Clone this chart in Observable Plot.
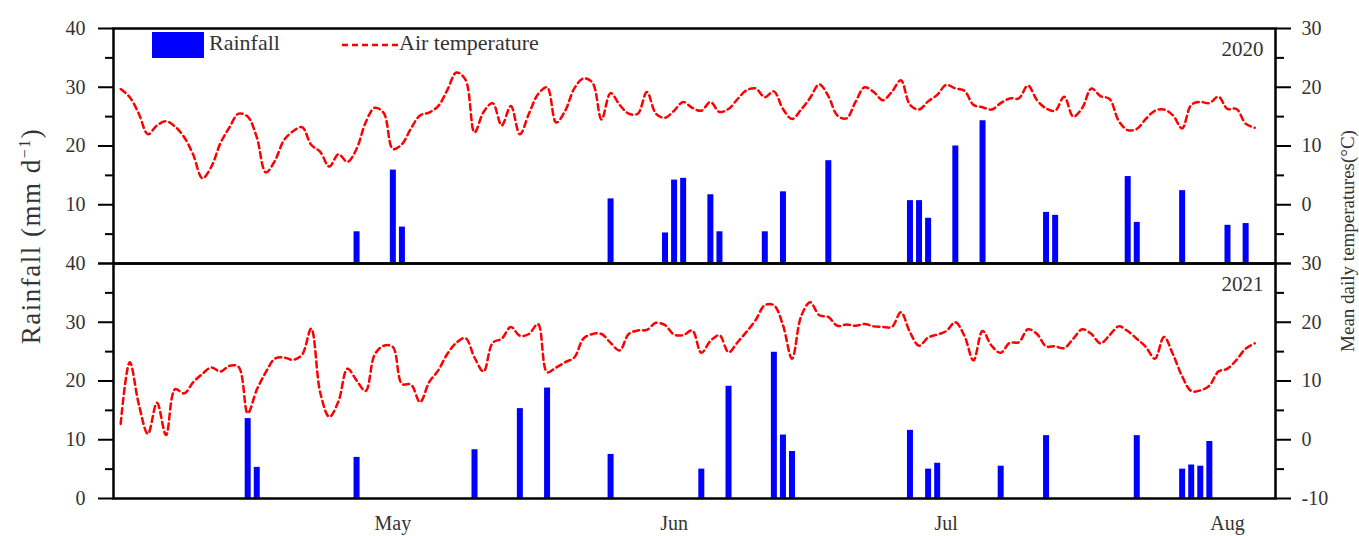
<!DOCTYPE html>
<html><head><meta charset="utf-8">
<script src="https://cdn.jsdelivr.net/npm/d3@7"></script>
<script src="https://cdn.jsdelivr.net/npm/@observablehq/plot@0.6"></script>
<style>
body{margin:0;background:#fff;}
#wrap{position:relative;width:1359px;height:536px;font-family:"Liberation Serif",serif;color:#333;}
.ov{position:absolute;white-space:nowrap;}
</style></head>
<body><div id="wrap"></div>
<script>
// ---- data ----
const years = [2020, 2021];
const monthTicks = ["05-01", "06-01", "07-01", "08-01"];
// daily mean air temperature (°C), 1 Apr .. 4 Aug
const temps2020 = [19.7,18.3,15.5,12.0,13.5,14.2,13.3,11.5,8.5,4.5,6.5,10.5,13.2,15.5,15.0,11.5,5.5,7.5,11.0,12.5,13.2,10.2,9.0,6.5,8.6,7.3,9.5,14.0,16.5,15.6,9.5,10.3,13.0,15.2,15.7,16.8,19.5,22.5,21.3,12.3,15.8,17.3,13.5,16.8,12.0,15.5,18.8,20.0,14.0,16.0,19.8,21.5,20.8,14.5,19.0,17.0,15.5,15.5,19.2,15.5,14.8,16.0,17.5,16.5,16.0,17.5,15.8,16.3,18.0,19.5,19.8,18.3,19.3,16.3,14.6,16.2,18.2,20.5,18.5,15.2,14.7,17.5,20.0,19.2,17.8,19.2,21.2,17.0,16.2,17.6,18.7,20.4,19.8,19.4,17.0,16.6,16.2,17.3,18.1,18.1,20.3,17.8,16.4,16.0,18.4,15.0,16.5,19.8,18.5,18.0,14.3,12.7,12.9,14.6,16.0,16.2,15.2,13.0,17.0,17.5,17.3,18.4,16.3,16.3,13.8,13.1];
const temps2021 = [2.7,13.2,6.0,1.0,6.3,0.8,8.6,7.9,9.8,11.2,12.3,11.6,12.6,12.4,4.5,8.5,11.5,13.8,14.0,13.6,14.5,18.9,8.0,3.9,6.5,12.1,10.1,8.3,14.5,16.0,15.8,9.5,9.4,6.4,9.8,11.8,14.6,16.5,17.3,14.0,11.6,16.5,17.2,19.2,17.7,18.0,19.7,11.5,12.3,13.2,14.0,17.2,18.0,18.0,16.5,15.2,18.0,18.6,18.7,19.9,19.5,17.9,17.8,18.6,14.8,16.8,17.8,14.9,16.6,18.4,20.4,22.9,22.9,19.5,13.8,21.0,23.4,21.2,20.9,19.4,19.6,19.4,19.7,19.3,19.2,19.2,21.7,18.3,16.0,17.4,17.9,18.5,20.0,17.7,13.5,18.5,16.0,14.8,16.5,16.6,18.8,18.0,15.9,15.9,15.6,17.2,18.8,18.0,16.4,17.8,19.3,18.5,17.2,15.8,13.8,17.5,14.5,10.8,8.3,8.4,9.2,11.6,12.1,13.6,15.5,16.4];
// daily rainfall (mm/d)
const rainDates2020 = ["04-27","05-01","05-02","05-25","05-31","06-01","06-02","06-05","06-06","06-11","06-13","06-18","06-27","06-28","06-29","07-02","07-05","07-12","07-13","07-21","07-22","07-27","08-01","08-03"];
const rain2020 = [5.4,15.9,6.2,11.0,5.2,14.2,14.5,11.7,5.4,5.4,12.2,17.5,10.7,10.7,7.7,20.0,24.3,8.7,8.2,14.8,7.0,12.4,6.5,6.8];
const rainDates2021 = ["04-15","04-16","04-27","05-10","05-15","05-18","05-25","06-04","06-07","06-12","06-13","06-14","06-27","06-29","06-30","07-07","07-12","07-22","07-27","07-28","07-29","07-30"];
const rain2021 = [13.6,5.3,7.0,8.3,15.3,18.8,7.5,5.0,19.1,24.9,10.8,8.0,11.6,5.0,6.0,5.5,10.7,10.7,5.0,5.7,5.5,9.7];

// ---- build tables (common calendar year for the shared x axis) ----
const md = s => { const [m, d] = s.split("-").map(Number); return new Date(Date.UTC(2021, m - 1, d)); };
const tempData = [
  ...temps2020.map((t, i) => ({year: 2020, date: new Date(Date.UTC(2021, 3, 1 + i)), temp: t})),
  ...temps2021.map((t, i) => ({year: 2021, date: new Date(Date.UTC(2021, 3, 1 + i)), temp: t}))
];
const rainData = [
  ...rainDates2020.map((s, i) => ({year: 2020, date: md(s), rain: rain2020[i]})),
  ...rainDates2021.map((s, i) => ({year: 2021, date: md(s), rain: rain2021[i]}))
];
const tempOffset = 10; // right axis: -10..30 °C shares the 0..40 mm frame

const axisStyle = {stroke: "black", strokeWidth: 2, fill: "#333", fontSize: 20, label: null};
const chart = Plot.plot({
  width: 1359, height: 536,
  marginLeft: 113, marginRight: 84, marginTop: 28, marginBottom: 38,
  style: {fontFamily: "Liberation Serif", fontSize: "20px", color: "#333", background: "white", overflow: "visible"},
  x: {type: "utc", domain: [new Date(Date.UTC(2021, 2, 31, 5)), new Date(Date.UTC(2021, 7, 6, 7))]},
  y: {domain: [0, 40]},
  fy: {padding: 0, axis: null, label: null, domain: years},
  marks: [
    Plot.ruleX(rainData, {x: "date", y1: 0, y2: "rain", fy: "year", stroke: "#0000ff", strokeWidth: 6}),
    Plot.line(tempData, {x: "date", y: d => d.temp + tempOffset, fy: "year", stroke: "#ff0000", strokeWidth: 2.5, strokeDasharray: "6,4", curve: "catmull-rom"}),
    Plot.frame({stroke: "black", strokeWidth: 2.5}),
    Plot.axisY({...axisStyle, ticks: [0, 10, 20, 30, 40], tickFormat: d => d === 0 ? "" : String(d), tickSize: 15, tickPadding: 13}),
    Plot.axisY({...axisStyle, ticks: [5, 15, 25, 35], tickFormat: () => "", tickSize: 8}),
    Plot.axisY({...axisStyle, anchor: "right", ticks: [0, 10, 20, 30, 40], tickFormat: d => d === 0 ? "" : String(d - tempOffset), tickSize: 15, tickPadding: 11}),
    Plot.axisY({...axisStyle, anchor: "right", ticks: [5, 15, 25, 35], tickFormat: () => "", tickSize: 8}),
    Plot.text([{year: 2021, v: 0}], {fy: "year", y: "v", text: () => "0", frameAnchor: "left", dx: -28, textAnchor: "end", fontSize: 20, fill: "#333"}),
    Plot.text([{year: 2021, v: 0}], {fy: "year", y: "v", text: d => String(d.v - tempOffset), frameAnchor: "right", dx: 26, textAnchor: "start", fontSize: 20, fill: "#333"}),
    Plot.text(years, {fy: d => d, text: d => String(d), frameAnchor: "top-right", dx: -12, dy: 13, fontSize: 21, fill: "#333"}),
    Plot.axisX({ticks: monthTicks.map(md), tickFormat: "%b", tickSize: 0, tickPadding: 17, fontSize: 20, fill: "#333", label: null})
  ]
});
const wrap = document.getElementById("wrap");
wrap.appendChild(chart);

// legend & titles
wrap.insertAdjacentHTML("beforeend", `
  <div class="ov" style="left:152px;top:32px;width:52px;height:26px;background:#0000ff;"></div>
  <div class="ov" style="left:209px;top:30px;font-size:22px;line-height:26px;">Rainfall</div>
  <svg class="ov" style="left:342px;top:40px;" width="56" height="10"><line x1="0" y1="5" x2="56" y2="5" stroke="#ff0000" stroke-width="2.5" stroke-dasharray="6,4"/></svg>
  <div class="ov" style="left:399px;top:30px;font-size:22px;line-height:26px;">Air temperature</div>
  <div class="ov" style="left:31px;top:236px;font-size:27px;letter-spacing:1.5px;transform:translate(-50%,-50%) rotate(-90deg);">Rainfall (mm d<sup style="font-size:16px;">−1</sup>)</div>
  <div class="ov" style="left:1348px;top:241px;font-size:19px;transform:translate(-50%,-50%) rotate(-90deg);">Mean daily temperatures(°C)</div>
`);
</script></body></html>
